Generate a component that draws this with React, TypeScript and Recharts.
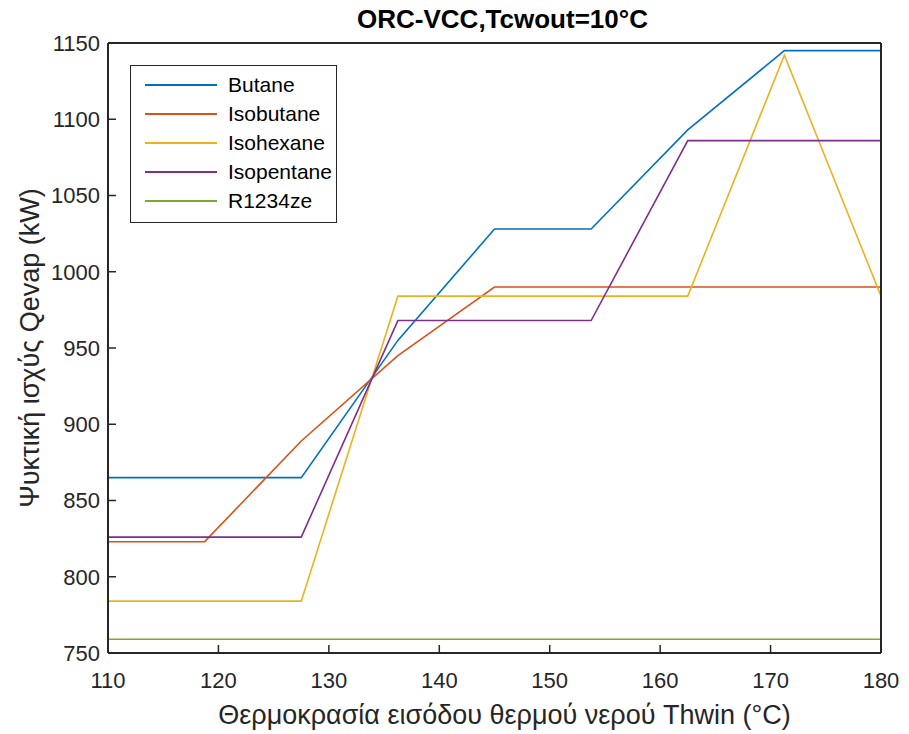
import { Label, Line, LineChart, XAxis, YAxis } from 'recharts';

const thwin = [110, 118.75, 127.5, 136.25, 145, 153.75, 162.5, 171.25, 180];
const butane = [865, 865, 865, 955, 1028, 1028, 1093, 1145, 1145];
const isobutane = [823, 823, 889, 945, 990, 990, 990, 990, 990];
const isohexane = [784, 784, 784, 984, 984, 984, 984, 1142, 984];
const isopentane = [826, 826, 826, 968, 968, 968, 1086, 1086, 1086];
const r1234ze = [759, 759, 759, 759, 759, 759, 759, 759, 759];

const xTicks = [110, 120, 130, 140, 150, 160, 170, 180];
const yTicks = [750, 800, 850, 900, 950, 1000, 1050, 1100, 1150];

const series = [
  { key: 'Butane', values: butane, color: '#0072BD' },
  { key: 'Isobutane', values: isobutane, color: '#D95319' },
  { key: 'Isohexane', values: isohexane, color: '#EDB120' },
  { key: 'Isopentane', values: isopentane, color: '#7E2F8E' },
  { key: 'R1234ze', values: r1234ze, color: '#77AC30' },
];

const data = thwin.map((t, i) => {
  const row: Record<string, number> = { t };
  series.forEach((s) => {
    row[s.key] = s.values[i];
  });
  return row;
});

const font = 'Liberation Sans, Arial, Helvetica, sans-serif';
const axisColor = '#262626';
const tickLine = { stroke: axisColor, strokeWidth: 1.5 };

export default function App() {
  return (
    <div style={{ position: 'absolute', left: 0, top: 0, width: 909, height: 734, background: '#fff' }}>
      <LineChart width={909} height={734} data={data} margin={{ top: 42, right: 27, left: 0, bottom: 0 }}>
        <XAxis
          dataKey="t"
          type="number"
          domain={[110, 180]}
          ticks={xTicks}
          height={81}
          stroke={axisColor}
          strokeWidth={2}
          tickLine={tickLine}
          tickSize={-8}
          tickMargin={27}
          tick={{ fill: '#262626', fontSize: 22, fontFamily: font }}
        >
          <Label
            value="Θερμοκρασία εισόδου θερμού νερού Thwin (°C)"
            position="insideBottom"
            offset={10}
            dx={10}
            style={{ fill: '#262626', fontSize: 27, fontFamily: font }}
          />
        </XAxis>
        <XAxis
          xAxisId="top"
          dataKey="t"
          type="number"
          orientation="top"
          domain={[110, 180]}
          ticks={xTicks}
          height={1}
          stroke={axisColor}
          strokeWidth={2}
          tickLine={tickLine}
          tickSize={-8}
          tick={false}
        />
        <YAxis
          type="number"
          domain={[750, 1150]}
          ticks={yTicks}
          width={108}
          stroke={axisColor}
          strokeWidth={2}
          tickLine={tickLine}
          tickSize={-8}
          tickMargin={16}
          tick={{ fill: '#262626', fontSize: 22, fontFamily: font }}
        >
          <Label
            value="Ψυκτική ισχύς Qevap (kW)"
            angle={-90}
            position="insideLeft"
            offset={29}
            style={{ textAnchor: 'middle', fill: '#262626', fontSize: 27, fontFamily: font }}
          />
        </YAxis>
        <YAxis
          yAxisId="right"
          type="number"
          orientation="right"
          domain={[750, 1150]}
          ticks={yTicks}
          width={1}
          stroke={axisColor}
          strokeWidth={2}
          tickLine={tickLine}
          tickSize={-8}
          tick={false}
        />
        {series.map((s) => (
          <Line
            key={s.key}
            dataKey={s.key}
            stroke={s.color}
            strokeWidth={1.6}
            dot={false}
            type="linear"
            isAnimationActive={false}
          />
        ))}
      </LineChart>
      <div
        style={{
          position: 'absolute',
          left: 116,
          width: 773,
          top: 4,
          textAlign: 'center',
          fontFamily: font,
          fontWeight: 'bold',
          fontSize: 26,
          color: '#000',
        }}
      >
        ORC-VCC,Tcwout=10°C
      </div>
      <div
        style={{
          position: 'absolute',
          left: 130,
          top: 65,
          width: 207,
          height: 158,
          border: `1.5px solid ${axisColor}`,
          background: '#fff',
          boxSizing: 'border-box',
          paddingTop: 4,
          fontFamily: font,
          fontSize: 21,
          color: '#000',
        }}
      >
        {series.map((s) => (
          <div key={s.key} style={{ display: 'flex', alignItems: 'center', height: 29 }}>
            <div style={{ width: 72, height: 2, background: s.color, marginLeft: 14, marginRight: 11 }} />
            <span>{s.key}</span>
          </div>
        ))}
      </div>
    </div>
  );
}
